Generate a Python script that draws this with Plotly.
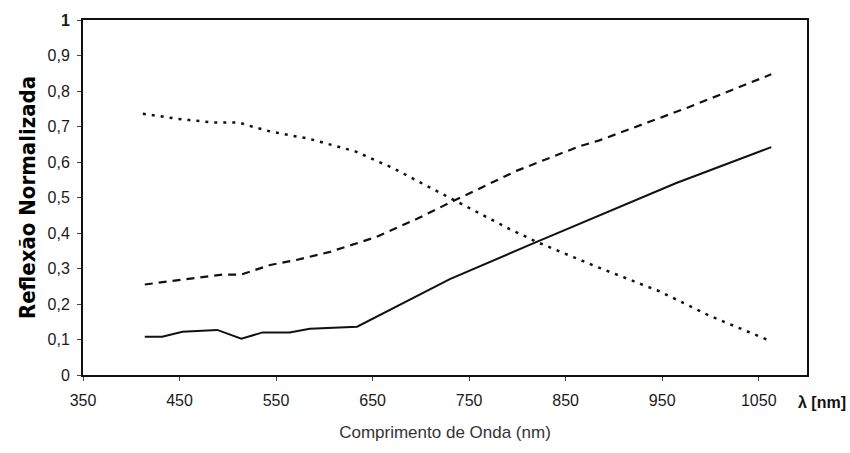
import plotly.graph_objects as go

# Data
x_solid = [414, 432, 453, 489, 514, 536, 564, 585, 634, 730, 820, 885, 964, 1063]
y_solid = [0.108, 0.108, 0.122, 0.127, 0.102, 0.120, 0.120, 0.130, 0.136, 0.270, 0.375, 0.450, 0.540, 0.642]

x_dashed = [414, 468, 495, 514, 544, 571, 606, 654, 696, 735, 799, 864, 885, 978, 1063]
y_dashed = [0.255, 0.273, 0.283, 0.283, 0.310, 0.324, 0.347, 0.389, 0.440, 0.492, 0.575, 0.644, 0.661, 0.755, 0.847]

x_dotted = [412, 447, 485, 512, 521, 544, 571, 582, 632, 671, 706, 735, 764, 792, 820, 851, 882, 947, 999, 1061]
y_dotted = [0.736, 0.722, 0.711, 0.711, 0.703, 0.686, 0.672, 0.667, 0.630, 0.583, 0.533, 0.492, 0.450, 0.411, 0.375, 0.339, 0.305, 0.236, 0.167, 0.097]

x_ticks = [350, 450, 550, 650, 750, 850, 950, 1050]
y_ticks = [0, 0.1, 0.2, 0.3, 0.4, 0.5, 0.6, 0.7, 0.8, 0.9, 1]
y_tick_labels = ["0", "0,1", "0,2", "0,3", "0,4", "0,5", "0,6", "0,7", "0,8", "0,9", "<b>1</b>"]

fig = go.Figure()
fig.add_trace(go.Scatter(x=x_solid, y=y_solid, mode="lines",
                         line=dict(color="#111111", width=2, dash="solid")))
fig.add_trace(go.Scatter(x=x_dashed, y=y_dashed, mode="lines",
                         line=dict(color="#111111", width=2.2, dash="8px,6px")))
fig.add_trace(go.Scatter(x=x_dotted, y=y_dotted, mode="lines",
                         line=dict(color="#111111", width=2.5, dash="3px,6px")))

axis_font = dict(family="Liberation Sans, Arial, sans-serif", size=16, color="#1a1a1a")

fig.update_layout(
    width=850, height=453,
    margin=dict(l=83, r=43, t=14, b=78),
    paper_bgcolor="white", plot_bgcolor="white",
    showlegend=False,
    xaxis=dict(range=[350, 1100], tickvals=x_ticks, ticktext=[str(v) for v in x_ticks],
               showgrid=False, zeroline=False, showline=True, linecolor="#111111",
               linewidth=2, mirror=True, ticks="outside", ticklen=4, tickcolor="#444444",
               tickfont=axis_font, ticklabelstandoff=6,
               title=dict(text="Comprimento de Onda (nm)", standoff=18,
                          font=dict(family="Liberation Sans, Arial, sans-serif", size=17, color="#333333"))),
    yaxis=dict(range=[0, 1], tickvals=y_ticks, ticktext=y_tick_labels,
               showgrid=False, zeroline=False, showline=True, linecolor="#111111",
               linewidth=2, mirror=True, ticks="outside", ticklen=4, tickcolor="#444444",
               tickfont=axis_font, ticklabelstandoff=4,
               title=dict(text="<b>Reflexão Normalizada</b>", standoff=6,
                          font=dict(family="DejaVu Sans Condensed, sans-serif",
                                    size=22, color="#000000"))),
)

fig.add_annotation(x=1, xref="paper", y=0, yref="paper", xanchor="center", yanchor="top",
                   xshift=15, yshift=-17, showarrow=False,
                   text="<b>λ [nm]</b>",
                   font=dict(family="Liberation Sans, Arial, sans-serif", size=16, color="#111111"))

fig.write_html("out.html")
